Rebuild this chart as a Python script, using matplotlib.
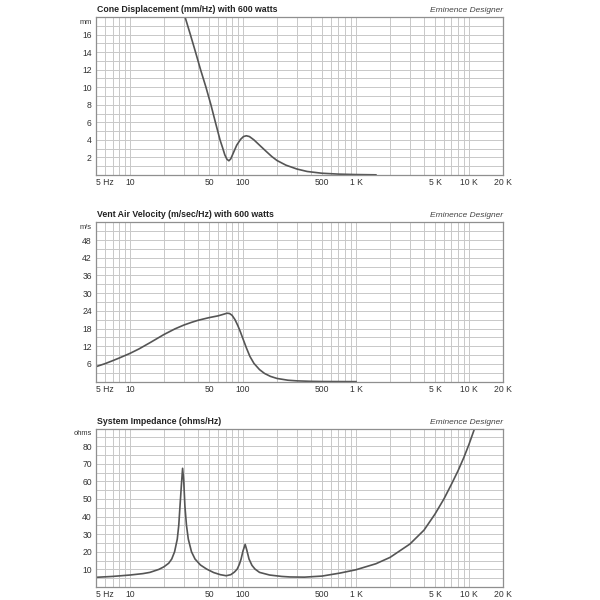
import matplotlib
matplotlib.use("Agg")
import matplotlib.pyplot as plt
from matplotlib.ticker import FixedLocator, MultipleLocator, NullFormatter

plt.rcParams['font.family'] = ['Liberation Sans', 'DejaVu Sans']

# frequency tick labels shared by all three panels
x_ticks = [5, 10, 50, 100, 500, 1000, 5000, 10000, 20000]
x_labels = ["5 Hz", "10", "50", "100", "500", "1 K", "5 K", "10 K", "20 K"]

# Cone displacement (mm)
cone_f = [29, 30.7, 34.2, 38, 42.1, 47, 52, 57, 62.6, 66, 69, 72, 75, 78, 82, 88,
          95, 101, 107, 114, 125, 140, 160, 180, 200, 240, 300, 370, 500, 700, 1000, 1500]
cone_mm = [19.2, 18, 16, 14, 12, 10, 8, 6, 4.0, 3.1, 2.3, 1.8, 1.62, 1.85, 2.5, 3.4,
           4.05, 4.38, 4.47, 4.38, 4.0, 3.4, 2.7, 2.1, 1.65, 1.12, 0.68, 0.4, 0.2, 0.1, 0.05, 0.02]

# Vent air velocity (m/s)
vent_f = [5, 6, 7, 8, 10, 12, 15, 17.5, 20, 25, 30, 35, 40, 50, 60, 68, 72, 76, 80, 85, 90,
          95, 100, 107, 115, 125, 140, 155, 175, 200, 250, 300, 400, 500, 1000]
vent_ms = [5.1, 6.1, 7.1, 8.0, 9.6, 11.1, 13.2, 14.7, 16.0, 17.9, 19.2, 20.1, 20.8, 21.7, 22.3,
           22.9, 23.2, 23.1, 22.5, 21.0, 19.0, 16.8, 14.5, 11.5, 8.6, 6.2, 4.1, 2.8, 1.8,
           1.1, 0.5, 0.28, 0.12, 0.06, 0.02]

# System impedance (ohms)
imp_f = [5, 7, 10, 13, 15, 18, 20, 22, 23.4, 24.8, 26.2, 27.0, 27.7, 28.5, 29.2, 29.9,
         30.6, 31.6, 32.8, 35, 37.6, 42, 47.6, 55, 63, 71, 78, 84, 88.9, 93, 96.2, 100,
         104.5, 108, 113, 120, 127.6, 140, 172, 220, 261, 350, 500, 721, 1000, 1500,
         2000, 3000, 4000, 5000, 6000, 7000, 8000, 9000, 10000, 11000, 11500]
imp_ohm = [5.5, 6.0, 6.8, 7.6, 8.3, 10.0, 11.5, 13.5, 15.9, 20.0, 27.2, 35, 46, 58, 67.4, 60,
           46, 35, 27.2, 20.0, 15.9, 12.5, 10.2, 8.2, 7.0, 6.4, 7.0, 8.5, 10.2, 13.0, 15.9, 20.5,
           24.2, 21.0, 15.9, 12.3, 10.2, 8.3, 6.8, 6.0, 5.7, 5.6, 6.2, 7.9, 9.8, 13.2,
           16.8, 24.4, 32.3, 41.4, 50.0, 58.4, 66.0, 73.5, 81.0, 88.5, 92.0]

panels = [
    ("Cone Displacement (mm/Hz) with 600 watts", "mm", cone_f, cone_mm, 18, 1, list(range(2, 17, 2))),
    ("Vent Air Velocity (m/sec/Hz) with 600 watts", "m/s", vent_f, vent_ms, 54, 3, list(range(6, 49, 6))),
    ("System Impedance (ohms/Hz)", "ohms", imp_f, imp_ohm, 90, 5, list(range(10, 81, 10))),
]

# axes boxes in pixels (top, bottom) on a 600x600 canvas
boxes = [(17, 175), (222.3, 381.7), (428.5, 587)]
left_px, right_px = 96, 503

fig = plt.figure(figsize=(6, 6), dpi=100)
fig.patch.set_facecolor("white")

grid_col = "#c8c8c8"
frame_col = "#8f8f8f"
curve_col = "#555555"
text_col = "#333333"

for (title, unit, fx, fy, ymax, ystep, yticks), (top, bot) in zip(panels, boxes):
    ax = fig.add_axes([left_px / 600, (600 - bot) / 600, (right_px - left_px) / 600, (bot - top) / 600])
    ax.set_xscale("log")
    ax.set_xlim(5, 20000)
    ax.set_ylim(0, ymax)

    ax.xaxis.set_major_locator(FixedLocator(x_ticks))
    ax.set_xticklabels(x_labels)
    minor_x = [m * 10 ** e for e in range(0, 5) for m in range(1, 10) if 5 < m * 10 ** e < 20000]
    ax.xaxis.set_minor_locator(FixedLocator(minor_x))
    ax.xaxis.set_minor_formatter(NullFormatter())
    ax.yaxis.set_major_locator(FixedLocator(yticks))
    ax.yaxis.set_minor_locator(MultipleLocator(ystep))

    ax.grid(True, which="both", color=grid_col, linewidth=0.7)
    ax.set_axisbelow(True)
    ax.tick_params(which="both", length=0, labelsize=6.2, colors=text_col)
    ax.tick_params(axis="x", pad=2.5)
    ax.tick_params(axis="y", pad=3)
    for s in ax.spines.values():
        s.set_color(frame_col)
        s.set_linewidth(0.9)

    lbls = ax.get_xticklabels()
    lbls[0].set_horizontalalignment("left")

    ax.plot(fx, fy, color=curve_col, linewidth=1.2, clip_on=True)

    ax.annotate(title, xy=(0, 1), xycoords="axes fraction", xytext=(1, 3),
                textcoords="offset pixels", ha="left", va="bottom",
                fontsize=6.3, fontweight="bold", color="#222222")
    ax.annotate("Eminence Designer", xy=(1, 1), xycoords="axes fraction", xytext=(0, 3),
                textcoords="offset pixels", ha="right", va="bottom",
                fontsize=6.0, fontstyle="italic", color="#444444")
    ax.annotate(unit, xy=(0, 1), xycoords="axes fraction", xytext=(-4, -5),
                textcoords="offset pixels", ha="right", va="center",
                fontsize=5.4, color=text_col)

fig.savefig("out.png", dpi=100, facecolor="white")
